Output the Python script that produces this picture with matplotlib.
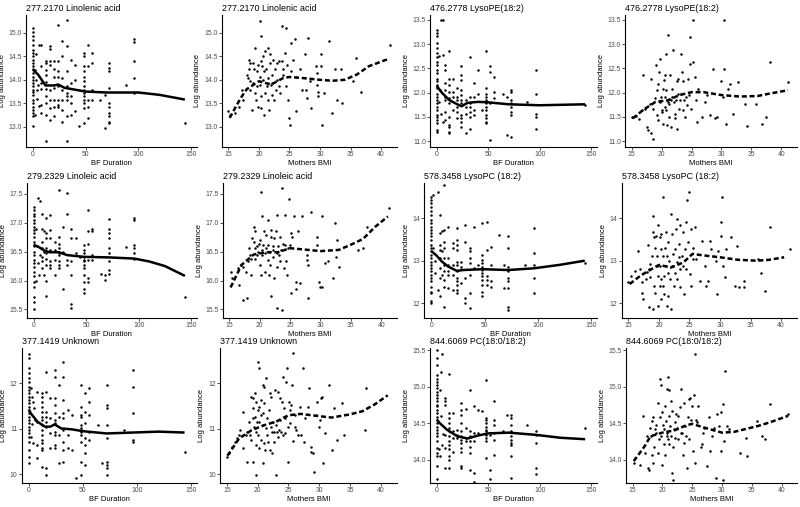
import matplotlib
matplotlib.use("Agg")
import matplotlib.pyplot as plt

plt.rcParams['font.family'] = ['Liberation Sans', 'DejaVu Sans']

# ---------------- data ----------------
bf_277 = [0, 0, 0, 0, 0, 0, 0, 0, 0, 0,
          0, 0, 0, 0, 0, 0, 0, 0, 0, 0,
          0, 0, 0, 0, 0, 0, 0,
          2, 2, 3, 3, 4, 4, 5, 6, 6,
          8, 8, 8, 8, 8, 8,
          12, 12, 12, 12, 12, 12, 12, 12, 12, 12,
          16, 16, 16, 16, 16, 16, 16, 16,
          20, 20, 20, 20, 20, 20, 20,
          24, 24, 24, 24, 24, 24, 24, 24,
          28, 28, 28, 28, 28, 28, 28,
          32, 32, 32, 32, 32, 32, 32, 32, 32,
          36, 36, 36, 36, 36,
          40, 40, 40,
          44,
          48, 48, 48, 48, 48, 48, 48, 48, 48, 48, 48, 48, 48, 48,
          52, 52, 52, 52, 52,
          56, 56, 56, 56,
          64,
          68, 68,
          72, 72, 72, 72, 72, 72, 72, 72, 72, 72,
          88,
          96, 96, 96, 96, 96,
          144]
y_bf_277 = [15.10, 15.02, 14.93, 14.84, 14.75, 14.64, 14.57, 14.50, 14.43, 14.36,
            14.29, 14.22, 14.15, 14.07, 14.00, 13.93, 13.86, 13.79, 13.75, 13.68,
            13.58, 13.51, 13.43, 13.36, 13.29, 13.22, 13.02,
            14.20, 13.25, 14.55, 14.00, 13.78, 13.60, 13.90, 14.75, 13.45,
            14.75, 14.30, 13.93, 13.80, 13.47, 13.30,
            14.40, 14.35, 14.20, 14.10, 13.95, 13.80, 13.65, 13.50, 13.26, 12.69,
            14.72, 14.65, 14.40, 14.32, 13.79, 13.58, 13.40, 13.15,
            14.40, 14.22, 14.07, 13.83, 13.58, 13.43, 13.22,
            15.16, 14.40, 14.18, 14.07, 13.86, 13.58, 13.47, 13.43,
            14.82, 14.50, 14.04, 13.79, 13.58, 13.36, 13.11,
            15.27, 14.72, 14.18, 13.86, 13.72, 13.65, 13.58, 13.22, 12.69,
            14.42, 13.93, 13.65, 13.51, 13.26,
            14.32, 14.00, 13.33,
            13.01,
            14.57, 14.50, 14.29, 14.18, 14.07, 13.97, 13.86, 13.79, 13.72, 13.65, 13.58, 13.51, 13.40, 13.08,
            14.75, 14.29, 13.58, 13.43, 13.19,
            14.57, 14.36, 13.79, 13.58,
            13.58,
            13.68, 12.97,
            14.36, 14.25, 14.18, 13.83, 13.51, 13.43, 13.29, 13.22, 13.11, 13.08,
            13.90,
            14.86, 14.80, 14.40, 14.04, 13.72,
            13.08]

bmi_277 = [15.0, 15.3, 16.1, 16.8, 17.2, 17.4, 18.0, 18.2, 18.5, 18.3,
           18.4, 18.5, 18.8, 18.6, 19.1, 19.0, 19.2, 19.3, 19.3, 19.5,
           19.6, 19.7, 19.9, 19.9, 20.1, 20.2, 20.3, 20.2, 20.3, 20.4,
           20.4, 20.5, 20.6, 20.7, 20.8, 20.9, 21.0, 21.0, 21.1, 21.3,
           21.4, 21.5, 21.5, 21.7, 21.8, 21.8, 21.9, 22.1, 22.2, 22.2,
           22.3, 22.4, 22.6, 22.8, 22.9, 23.0, 23.2, 23.3, 23.4, 23.7,
           23.8, 23.9, 24.0, 24.2, 24.4, 24.5, 24.6, 24.8, 24.9, 25.1,
           25.2, 25.3, 25.6, 25.9, 26.0, 26.1, 26.7, 27.0, 27.5, 27.7,
           27.8, 28.0, 28.3, 28.5, 29.4, 29.5, 29.5, 29.6, 29.7, 30.1,
           30.2, 30.4, 30.6, 31.5, 32.0, 32.4, 32.7, 33.5, 33.6, 35.4,
           35.9, 36.7, 41.4]
y_bmi_277 = [13.33, 13.26, 13.29, 13.43, 13.79, 13.58, 14.11, 14.04, 13.79, 14.43,
             14.22, 13.97, 13.36, 14.36, 14.36, 13.93, 14.22, 14.68, 13.72, 13.58,
             14.18, 13.86, 14.32, 13.43, 14.07, 13.90, 14.93, 15.25, 14.40, 13.65,
             13.40, 14.29, 14.00, 14.50, 14.18, 13.26, 13.72, 14.61, 14.22, 13.86,
             13.58, 14.68, 14.04, 13.36, 14.54, 14.36, 13.90, 13.68, 14.11, 13.93,
             14.43, 13.58, 14.22, 13.79, 14.36, 14.00, 13.86, 14.40, 13.72, 15.14,
             14.40, 14.11, 14.22, 14.57, 13.86, 15.11, 14.32, 13.58, 13.19, 13.04,
             14.79, 14.18, 14.43, 14.86, 13.33, 14.07, 14.22, 13.79, 14.54, 13.79,
             13.61, 14.89, 13.97, 13.40, 14.29, 14.15, 13.90, 13.75, 13.65, 14.29,
             14.54, 13.04, 13.72, 14.82, 13.29, 14.22, 13.58, 14.22, 13.51, 13.97,
             14.47, 13.75, 14.75]

bf_476 = [0, 0, 0, 0, 0, 0, 0, 0, 0, 0,
          0, 0, 0, 0, 0, 0, 0, 0, 0, 0,
          0, 0, 0, 0, 0, 0, 0,
          2, 2, 3, 4, 4, 6, 6, 6,
          8, 8, 8, 8, 8, 8, 8, 8,
          12, 12, 12, 12, 12, 12, 12, 12, 12, 12, 12,
          16, 16, 16, 16,
          20, 20, 20, 20, 20, 20,
          24, 24, 24, 24, 24, 24, 24, 24, 24, 24, 24,
          28, 28, 28, 28,
          32, 32, 32, 32, 32, 32, 32,
          36, 36, 36, 36,
          40, 40,
          44,
          48, 48, 48, 48, 48, 48, 48, 48, 48, 48, 48, 48,
          52, 52, 52, 52,
          56, 56, 56,
          64,
          68, 68,
          72, 72, 72, 72, 72, 72, 72, 72,
          88,
          96, 96, 96, 96, 96,
          144]
y_bf_476 = [13.29, 13.22, 13.16, 13.02, 12.91, 12.81, 12.74, 12.64, 12.57, 12.47,
            12.40, 12.29, 12.23, 12.16, 12.09, 11.98, 11.92, 11.85, 11.78, 11.71,
            11.64, 11.54, 11.50, 11.43, 11.37, 11.23, 11.19,
            12.75, 11.80, 12.05, 13.49, 11.55, 13.49, 12.78, 11.40,
            12.57, 12.47, 12.19, 12.05, 11.92, 11.85, 11.61, 11.43,
            12.85, 12.29, 12.16, 12.02, 11.88, 11.78, 11.50, 11.33, 11.29, 11.19, 11.16,
            12.29, 12.02, 11.92, 11.64,
            12.09, 11.92, 11.85, 11.71, 11.61, 11.47,
            12.54, 12.36, 12.26, 12.05, 11.95, 11.85, 11.78, 11.54, 11.47, 11.40, 11.29,
            11.85, 11.71, 11.57, 11.17,
            12.74, 11.92, 11.78, 11.71, 11.61, 11.50, 11.26,
            12.19, 11.92, 11.64, 11.54,
            12.47, 11.98,
            11.64,
            12.85, 12.09, 11.98, 11.92, 11.85, 11.78, 11.71, 11.64, 11.54, 11.47, 11.40, 11.37,
            12.54, 12.43, 11.78, 11.02,
            12.33, 12.02, 11.88,
            11.98,
            11.92, 11.12,
            12.05, 12.02, 11.85, 11.78, 11.71, 11.61, 11.54, 11.09,
            11.81,
            12.47, 11.98, 11.57, 11.50, 11.26,
            11.74]

bmi_476 = [15.0, 15.3, 15.7, 16.3, 16.7, 16.9, 17.2, 17.5, 17.8, 18.1,
           18.3, 18.3, 18.5, 18.6, 18.9, 19.1, 19.2, 19.3, 19.4, 19.4,
           19.6, 19.7, 19.8, 19.9, 20.0, 20.1, 20.2, 20.3, 20.4, 20.5,
           20.6, 20.6, 20.7, 20.8, 20.8, 20.9, 21.1, 21.1, 21.2, 21.3,
           21.4, 21.5, 21.6, 21.7, 21.8, 21.9, 22.1, 22.2, 22.2, 22.4,
           22.5, 22.6, 22.7, 22.8, 22.9, 23.1, 23.2, 23.3, 23.4, 23.5,
           23.6, 23.7, 23.9, 24.1, 24.2, 24.4, 24.6, 24.7, 24.8, 24.9,
           25.2, 25.3, 25.6, 25.8, 25.9, 26.1, 26.7, 27.2, 27.6, 28.1,
           28.6, 28.9, 29.2, 30.0, 30.3, 30.4, 30.5, 30.7, 31.1, 31.4,
           31.9, 32.8, 33.9, 34.2, 35.8, 36.7, 37.5, 38.1, 41.1]
y_bmi_476 = [11.49, 11.50, 11.51, 11.45, 11.64, 12.36, 11.67, 11.29, 11.23, 11.77,
             12.29, 11.16, 11.05, 11.67, 11.88, 12.56, 12.05, 11.53, 12.18, 11.43,
             12.42, 11.81, 12.70, 11.91, 11.60, 11.64, 12.08, 11.36, 12.27, 11.71,
             11.91, 12.36, 12.80, 12.05, 11.64, 11.33, 13.18, 11.81, 11.77, 11.50,
             12.36, 11.84, 11.29, 12.08, 11.91, 12.87, 11.81, 11.57, 11.47, 11.84,
             11.26, 12.25, 11.98, 12.29, 11.67, 11.84, 12.80, 11.98, 12.42, 11.64,
             12.25, 11.84, 11.50, 11.91, 11.74, 12.29, 11.95, 13.14, 12.60, 11.67,
             13.49, 12.63, 12.32, 11.84, 11.40, 12.08, 11.50, 11.81, 11.95, 11.53,
             12.49, 11.47, 11.50, 12.25, 11.91, 13.49, 12.49, 11.36, 12.08, 12.18,
             11.57, 12.22, 11.77, 11.31, 11.77, 11.36, 11.50, 12.63, 12.22]

bf_279 = [0, 0, 0, 0, 0, 0, 0, 0, 0, 0,
          0, 0, 0, 0, 0, 0, 0, 0, 0, 0,
          0, 0, 0, 0,
          2, 2, 3, 4, 4, 5, 6, 6,
          8, 8, 8, 8, 8, 8, 8,
          10, 10, 10,
          12, 12, 12, 12, 12, 12, 12, 12, 12,
          16, 16, 16, 16, 16, 16, 16,
          20, 20, 20, 20,
          24, 24, 24, 24, 24, 24, 24, 24, 24, 24,
          28, 28, 28,
          32, 32, 32, 32,
          36, 36, 36, 36, 36, 36,
          40, 40,
          44,
          48, 48, 48, 48, 48, 48, 48, 48, 48, 48, 48, 48,
          52, 52, 52, 52, 52, 52,
          56, 56, 56, 56,
          64,
          68, 68,
          72, 72, 72, 72, 72, 72, 72, 72, 72,
          88,
          96, 96, 96, 96, 96, 96,
          144]
y_bf_279 = [17.28, 17.22, 17.16, 17.11, 17.05, 16.99, 16.93, 16.88, 16.82, 16.76,
            16.67, 16.59, 16.50, 16.44, 16.36, 16.30, 16.24, 16.15, 16.07, 15.98,
            15.89, 15.72, 15.63, 15.50,
            16.90, 16.00, 16.60, 17.43, 16.30, 16.10, 17.37, 16.45,
            17.16, 16.90, 16.67, 16.56, 16.41, 16.33, 16.21,
            16.85, 16.50, 16.10,
            17.08, 16.82, 16.73, 16.56, 16.47, 16.38, 16.27, 16.00, 15.73,
            17.14, 16.88, 16.73, 16.53, 16.33, 16.27, 16.21,
            16.67, 16.53, 16.36, 16.10,
            17.57, 16.76, 16.64, 16.56, 16.50, 16.47, 16.44, 16.33, 16.27, 16.21,
            16.93, 16.50, 15.86,
            17.51, 17.16, 16.36, 16.27,
            16.90, 16.73, 16.33, 16.10, 15.60, 15.52,
            16.73, 16.47,
            16.41,
            16.62, 16.53, 16.47, 16.41, 16.36, 16.33, 16.27, 16.21, 16.10, 15.98, 15.86, 15.78,
            17.23, 16.85, 16.64, 16.36, 16.04, 15.98,
            16.90, 16.85, 16.44, 16.36,
            16.12,
            16.10, 16.01,
            17.06, 16.90, 16.82, 16.73, 16.56, 16.47, 16.33, 16.18, 16.12,
            16.58,
            17.08, 17.05, 16.62, 16.56, 16.47, 16.38,
            15.72]

bmi_279 = [15.2, 15.5, 16.4, 16.6, 16.9, 17.2, 17.3, 17.7, 17.9, 18.0,
           18.3, 18.4, 18.5, 18.6, 18.8, 19.0, 19.1, 19.2, 19.3, 19.3,
           19.5, 19.6, 19.7, 19.9, 20.0, 20.1, 20.2, 20.2, 20.3, 20.4,
           20.4, 20.6, 20.7, 20.8, 20.8, 21.0, 21.1, 21.3, 21.3, 21.4,
           21.5, 21.5, 21.7, 21.8, 21.8, 21.9, 22.1, 22.1, 22.2, 22.3,
           22.4, 22.6, 22.8, 22.8, 22.9, 22.9, 23.0, 23.2, 23.3, 23.4,
           23.5, 23.7, 23.7, 23.9, 24.0, 24.1, 24.2, 24.4, 24.5, 24.6,
           24.8, 24.9, 25.1, 25.2, 25.3, 25.6, 25.9, 26.0, 26.3, 26.6,
           27.0, 27.7, 27.8, 27.9, 28.0, 28.4, 29.4, 29.5, 29.7, 29.9,
           30.2, 30.3, 30.8, 31.3, 32.0, 32.4, 32.6, 32.7, 33.1, 36.2,
           37.0, 37.6, 41.3]
y_bmi_279 = [16.14, 16.04, 16.21, 15.92, 16.27, 15.66, 16.24, 16.15, 15.69, 16.33,
             16.56, 16.44, 16.10, 16.38, 16.73, 16.93, 16.67, 16.56, 16.38, 16.85,
             16.44, 16.59, 16.50, 16.64, 16.27, 16.70, 17.54, 16.10, 16.53, 17.11,
             16.44, 16.62, 16.85, 16.47, 16.15, 16.56, 16.79, 16.36, 16.62, 17.05,
             16.50, 16.10, 16.27, 15.74, 16.76, 16.88, 16.59, 16.53, 16.41, 16.04,
             16.73, 16.85, 16.47, 15.52, 17.14, 16.24, 16.59, 16.44, 16.76, 16.33,
             16.53, 17.60, 15.49, 16.64, 16.21, 16.62, 17.14, 16.33, 16.10, 16.56,
             17.42, 16.62, 15.78, 16.82, 16.76, 17.11, 15.86, 15.98, 16.85, 15.95,
             17.11, 16.44, 16.36, 16.27, 15.69, 17.19, 16.62, 16.76, 15.98, 15.89,
             17.11, 15.89, 16.30, 16.33, 16.04, 16.99, 16.41, 16.70, 16.24, 16.53,
             16.56, 16.93, 17.25]

bf_578 = [0, 0, 0, 0, 0, 0, 0, 0, 0, 0,
          0, 0, 0, 0, 0, 0, 0, 0, 0, 0,
          0, 0, 0, 0, 0, 0, 0, 0, 0, 0,
          2, 2, 4, 4, 6, 6,
          8, 8, 8, 8, 8, 8, 8, 8,
          10, 10, 10,
          12, 12, 12, 12, 12, 12, 12, 12, 12, 12,
          16, 16, 16, 16, 16, 16,
          20, 20, 20, 20, 20,
          24, 24, 24, 24, 24, 24, 24, 24, 24, 24, 24, 24,
          28, 28, 28,
          32, 32, 32, 32, 32,
          36, 36, 36, 36, 36, 36, 36,
          40, 40,
          44,
          48, 48, 48, 48, 48, 48, 48, 48, 48, 48, 48, 48,
          52, 52, 52, 52, 52,
          56, 56, 56, 56,
          64,
          68, 68,
          72, 72, 72, 72, 72, 72, 72, 72, 72,
          88,
          96, 96, 96, 96, 96,
          144]
y_bf_578 = [14.51, 14.43, 14.35, 14.27, 14.16, 14.08, 13.96, 13.88, 13.80, 13.73,
            13.65, 13.57, 13.49, 13.37, 13.29, 13.22, 13.14, 13.06, 12.98, 12.90,
            12.82, 12.75, 12.67, 12.59, 12.51, 12.39, 12.27, 12.24, 12.04, 12.00,
            14.55, 13.30, 13.00, 12.70, 14.61, 12.30,
            14.08, 13.65, 13.37, 13.25, 13.06, 12.82, 12.59, 12.16,
            13.69, 13.22, 12.67,
            14.78, 13.73, 13.45, 13.29, 13.06, 12.90, 12.75, 12.55, 12.39, 11.92,
            13.80, 13.06, 12.90, 12.75, 12.67, 12.35,
            13.41, 13.29, 12.90, 12.67, 12.31,
            13.76, 13.49, 13.37, 13.25, 12.98, 12.90, 12.75, 12.59, 12.51, 12.43, 12.31, 12.24,
            12.98, 12.86, 12.47,
            13.84, 13.45, 12.59, 12.12, 12.00,
            13.29, 13.22, 13.06, 12.94, 12.67, 12.24, 11.88,
            13.80, 12.82,
            12.90,
            13.88, 13.14, 13.02, 12.94, 12.86, 12.78, 12.71, 12.63, 12.55, 12.43, 12.27, 12.16,
            13.92, 13.25, 12.63, 12.55, 12.43,
            13.33, 12.90, 12.51, 12.39,
            13.61,
            12.90, 12.35,
            13.57, 13.29, 12.86, 12.75, 12.59, 12.51, 12.35, 11.92, 11.84,
            12.90,
            13.76, 13.18, 12.90, 12.59, 12.24,
            12.94]

bmi_578 = [15.0, 15.5, 16.1, 16.6, 16.9, 17.2, 17.3, 17.4, 17.9, 18.0,
           18.2, 18.3, 18.4, 18.5, 18.6, 18.8, 19.0, 19.1, 19.1, 19.2,
           19.2, 19.3, 19.3, 19.5, 19.6, 19.7, 19.8, 19.9, 19.9, 20.1,
           20.1, 20.2, 20.3, 20.3, 20.4, 20.4, 20.6, 20.7, 20.7, 20.8,
           20.9, 21.0, 21.1, 21.1, 21.3, 21.3, 21.4, 21.5, 21.5, 21.7,
           21.8, 21.9, 22.0, 22.1, 22.2, 22.3, 22.4, 22.6, 22.7, 22.8,
           22.9, 23.0, 23.0, 23.2, 23.3, 23.4, 23.4, 23.5, 23.7, 23.9,
           24.0, 24.1, 24.2, 24.4, 24.5, 24.6, 24.8, 24.9, 25.1, 25.2,
           25.3, 25.5, 25.6, 25.9, 26.1, 26.7, 27.0, 27.5, 27.7, 28.0,
           28.4, 28.6, 29.4, 29.5, 29.7, 30.1, 30.2, 30.4, 30.5, 30.8,
           30.9, 31.8, 32.4, 32.7, 33.1, 33.9, 33.9, 36.2, 36.7, 37.3,
           38.1, 41.4]
y_bmi_578 = [12.49, 12.65, 12.76, 13.24, 12.80, 12.49, 12.25, 12.09, 12.57, 12.74,
             13.37, 12.80, 11.90, 12.61, 12.92, 13.12, 14.06, 13.67, 11.86, 13.55,
             12.41, 13.31, 12.25, 13.59, 12.88, 13.12, 12.65, 11.94, 13.83, 12.41,
             13.55, 12.88, 13.28, 12.57, 13.63, 12.09, 13.12, 12.41, 14.50, 12.65,
             12.21, 13.31, 12.88, 13.67, 13.12, 11.94, 12.72, 13.43, 12.17, 13.00,
             12.57, 11.86, 14.10, 13.63, 12.88, 13.16, 12.41, 13.28, 12.72, 13.75,
             12.96, 13.98, 12.57, 13.08, 13.39, 12.80, 12.37, 13.83, 13.12, 13.67,
             12.88, 12.21, 13.28, 13.91, 12.80, 14.42, 13.43, 14.61, 12.69, 13.75,
             12.41, 13.04, 13.31, 13.79, 13.04, 12.53, 13.47, 12.88, 12.41, 12.53,
             13.47, 13.28, 13.00, 12.21, 13.24, 13.59, 13.91, 14.50, 12.88, 12.61,
             13.28, 13.55, 12.41, 13.35, 12.37, 12.53, 12.37, 13.04, 12.72, 12.29,
             13.79, 13.28]

bf_377 = [0, 0, 0, 0, 0, 0, 0, 0, 0, 0,
          0, 0, 0, 0, 0, 0, 0, 0, 0, 0,
          0, 0, 0, 0, 0, 0,
          2, 2, 3, 3, 4, 4, 5, 6,
          8, 8, 8, 8,
          12, 12, 12, 12, 12, 12, 12, 12, 12, 12, 12, 12, 12, 12, 12,
          16, 16, 16, 16, 16, 16, 16, 16,
          20, 20, 20, 20,
          24, 24, 24, 24, 24, 24, 24, 24, 24, 24, 24,
          28, 28, 28, 28,
          32, 32, 32, 32, 32, 32, 32, 32, 32,
          36, 36, 36,
          40, 40,
          44,
          48, 48, 48, 48, 48, 48, 48, 48, 48, 48, 48, 48,
          52, 52, 52, 52, 52, 52, 52,
          56, 56, 56, 56, 56,
          64,
          68,
          72, 72, 72, 72, 72, 72, 72, 72, 72,
          88,
          96, 96, 96, 96, 96,
          144]
y_bf_377 = [12.64, 12.56, 12.33, 12.22, 12.11, 12.04, 11.93, 11.85, 11.78, 11.71,
            11.63, 11.56, 11.49, 11.41, 11.34, 11.27, 11.19, 11.12, 11.05, 10.97,
            10.90, 10.83, 10.72, 10.53, 10.39, 10.24,
            11.89, 10.83, 11.71, 11.10, 11.60, 10.70, 11.45, 11.19,
            11.82, 11.16, 10.64, 10.35,
            11.78, 11.71, 11.60, 11.49, 11.38, 11.27, 11.19, 11.08, 10.97, 10.86, 10.75, 10.68, 10.57, 10.53, 10.17,
            12.26, 11.82, 11.38, 11.27, 11.16, 11.05, 10.13, 9.99,
            11.67, 11.23, 10.90, 10.57,
            12.29, 12.15, 11.67, 11.52, 11.34, 11.19, 11.12, 10.94, 10.86, 10.64, 10.57,
            11.96, 11.27, 10.86, 10.24,
            12.48, 12.15, 11.63, 11.34, 11.23, 10.97, 10.72, 10.53, 10.28,
            11.41, 10.86, 10.57,
            11.30, 10.53,
            9.91,
            11.96, 11.49, 11.30, 11.27, 11.08, 11.01, 10.97, 10.94, 10.86, 10.72, 10.28, 9.99,
            11.78, 11.38, 11.12, 10.79, 10.64, 10.46, 10.21,
            11.89, 11.60, 11.30, 10.94, 10.75,
            11.08,
            10.24,
            11.96, 11.52, 11.45, 11.08, 10.79, 10.28, 10.21, 10.13, 9.99,
            10.97,
            12.29, 11.93, 11.34, 10.75, 10.72,
            10.50]

bmi_377 = [15.1, 15.4, 15.8, 16.3, 16.6, 17.0, 17.2, 17.6, 17.7, 18.1,
           18.2, 18.3, 18.6, 18.7, 18.9, 19.0, 19.2, 19.2, 19.3, 19.3,
           19.4, 19.5, 19.5, 19.7, 19.7, 19.8, 19.8, 19.9, 20.0, 20.1,
           20.1, 20.2, 20.2, 20.3, 20.3, 20.5, 20.6, 20.6, 20.8, 20.8,
           20.9, 20.9, 21.0, 21.0, 21.1, 21.2, 21.3, 21.4, 21.5, 21.6,
           21.7, 21.8, 22.0, 22.0, 22.1, 22.2, 22.3, 22.4, 22.5, 22.6,
           22.7, 22.8, 22.9, 23.0, 23.1, 23.3, 23.3, 23.4, 23.6, 23.7,
           23.8, 24.0, 24.1, 24.1, 24.3, 24.4, 24.5, 24.6, 24.7, 24.9,
           24.9, 25.1, 25.2, 25.3, 25.4, 25.6, 25.7, 25.8, 26.0, 26.1,
           26.3, 26.5, 26.8, 27.0, 27.3, 27.6, 27.7, 28.1, 28.3, 28.6,
           28.7, 28.9, 29.2, 29.4, 29.7, 30.0, 30.1, 30.2, 30.4, 30.6,
           30.9, 31.6, 32.0, 32.4, 32.8, 33.7, 34.0, 37.4, 37.5]
y_bmi_377 = [10.39, 10.46, 10.61, 10.72, 10.79, 10.86, 10.97, 10.57, 11.38, 10.86,
             10.94, 10.28, 11.16, 10.86, 11.71, 10.75, 11.23, 11.45, 10.28, 11.67,
             11.05, 11.27, 11.78, 10.94, 9.99, 11.60, 10.64, 11.16, 11.41, 10.86,
             12.48, 11.49, 12.33, 11.16, 10.57, 11.30, 11.63, 10.75, 11.96, 10.24,
             11.08, 11.34, 10.68, 11.93, 11.56, 10.53, 12.11, 11.01, 11.23, 10.86,
             10.72, 11.41, 11.78, 10.53, 11.05, 11.71, 10.94, 10.46, 11.16, 10.72,
             10.94, 11.85, 9.99, 11.08, 10.94, 11.82, 10.83, 10.97, 11.67, 11.19,
             10.94, 11.60, 12.15, 10.86, 11.45, 10.90, 11.23, 12.04, 12.33, 11.05,
             10.28, 11.60, 11.12, 11.41, 11.52, 11.96, 10.73, 12.66, 11.30, 11.05,
             10.97, 10.86, 11.49, 10.86, 12.33, 10.72, 11.23, 11.49, 11.89, 10.50,
             10.61, 10.46, 10.06, 11.30, 11.60, 11.05, 11.19, 11.67, 11.71, 10.24,
             10.90, 11.96, 10.53, 11.45, 10.75, 11.56, 10.86, 10.97, 11.89]

bf_844 = [0, 0, 0, 0, 0, 0, 0, 0, 0, 0,
          0, 0, 0, 0, 0, 0, 0, 0, 0, 0,
          0, 0, 0, 0, 0, 0, 0, 0, 0,
          2, 3, 3, 4, 4, 5, 5, 6,
          8, 8, 8, 8, 8, 8,
          12, 12, 12, 12, 12, 12, 12, 12, 12, 12, 12, 12, 12,
          16, 16, 16, 16,
          20, 20, 20,
          24, 24, 24, 24, 24, 24, 24, 24, 24, 24, 24, 24,
          28, 28, 28, 28,
          32, 32, 32, 32, 32, 32, 32,
          36, 36, 36, 36, 36,
          40, 40,
          44,
          48, 48, 48, 48, 48, 48, 48, 48, 48, 48, 48,
          52, 52, 52,
          56, 56, 56, 56, 56, 56,
          64,
          68,
          72, 72, 72, 72, 72, 72, 72, 72, 72, 72,
          88,
          96, 96, 96, 96, 96,
          144]
y_bf_844 = [15.50, 15.39, 15.30, 15.16, 15.11, 15.07, 15.02, 14.98, 14.93, 14.89,
            14.84, 14.80, 14.75, 14.73, 14.68, 14.64, 14.59, 14.55, 14.50, 14.45,
            14.41, 14.36, 14.32, 14.25, 14.16, 14.09, 14.05, 13.91, 13.73,
            14.15, 14.95, 14.05, 15.20, 14.60, 15.45, 14.20, 14.35,
            14.84, 14.80, 14.75, 14.34, 14.16, 13.89,
            15.18, 14.64, 14.57, 14.50, 14.43, 14.39, 14.32, 14.25, 14.20, 14.14, 14.05, 14.00, 13.89,
            14.64, 14.39, 14.30, 14.11,
            14.41, 14.34, 14.30,
            14.77, 14.68, 14.61, 14.50, 14.39, 14.32, 14.27, 14.23, 14.16, 14.11, 13.91, 13.89,
            14.70, 14.43, 14.30, 14.25,
            14.95, 14.39, 14.32, 14.25, 14.18, 14.09, 13.86,
            14.73, 14.36, 14.25, 13.82, 13.70,
            14.68, 14.36,
            14.66,
            15.09, 14.57, 14.55, 14.50, 14.45, 14.41, 14.39, 14.34, 14.30, 14.25, 14.02,
            14.34, 13.86, 13.73,
            14.80, 14.55, 14.48, 14.36, 14.27, 14.07,
            14.39,
            14.61,
            14.61, 14.57, 14.48, 14.39, 14.32, 14.27, 14.23, 14.20, 14.05, 13.75,
            14.48,
            14.39, 14.34, 14.23, 13.89, 13.80,
            14.43]

bmi_844 = [15.2, 15.4, 16.3, 16.8, 17.1, 17.4, 17.6, 17.8, 17.9, 18.1,
           18.2, 18.3, 18.5, 18.5, 18.6, 18.8, 18.9, 19.0, 19.2, 19.3,
           19.4, 19.6, 19.6, 19.7, 19.7, 19.9, 20.0, 20.1, 20.2, 20.3,
           20.4, 20.5, 20.6, 20.7, 20.7, 20.8, 21.0, 21.0, 21.1, 21.2,
           21.2, 21.3, 21.4, 21.5, 21.6, 21.7, 21.8, 21.8, 21.9, 22.1,
           22.2, 22.3, 22.5, 22.6, 22.7, 22.9, 23.1, 23.2, 23.3, 23.4,
           23.6, 23.7, 23.8, 24.0, 24.2, 24.3, 24.4, 24.5, 24.7, 24.8,
           24.9, 25.1, 25.3, 25.4, 25.5, 25.7, 25.9, 26.0, 26.5, 26.6,
           26.8, 27.0, 27.5, 27.9, 28.0, 28.4, 28.7, 29.0, 29.2, 29.5,
           29.8, 29.9, 30.1, 30.2, 30.3, 30.5, 30.9, 31.2, 33.0, 34.0,
           34.2, 35.9, 36.7, 37.2, 38.1, 41.1]
y_bmi_844 = [13.95, 14.02, 13.92, 14.60, 14.09, 14.32, 13.88, 13.86, 14.44, 14.32,
             14.53, 14.07, 14.58, 13.96, 14.18, 14.42, 14.37, 14.48, 14.09, 14.78,
             14.28, 15.11, 14.58, 15.02, 14.32, 14.65, 13.93, 14.48, 14.21, 14.42,
             14.74, 14.07, 14.53, 14.32, 14.37, 14.97, 15.13, 14.28, 14.21, 14.60,
             14.95, 14.46, 14.81, 14.32, 14.67, 13.82, 14.18, 13.72, 14.42, 14.51,
             14.30, 14.62, 14.44, 14.60, 14.28, 14.72, 14.37, 14.97, 14.37, 14.07,
             14.78, 14.23, 14.46, 14.32, 13.88, 14.58, 14.28, 14.83, 14.85, 14.55,
             14.74, 14.12, 14.88, 15.45, 13.95, 14.55, 14.51, 14.74, 14.18, 14.21,
             14.37, 14.44, 13.91, 14.58, 14.12, 14.32, 14.44, 13.75, 14.62, 14.46,
             14.65, 14.12, 13.72, 14.76, 14.25, 15.22, 14.46, 14.42, 14.09, 14.30,
             14.05, 14.53, 14.32, 14.28, 14.76, 14.62]

# smoothed fits
fit_bf_277_x = [0, 5, 12, 20, 24, 30, 50, 70, 100, 120, 144]
fit_bf_277_y = [14.22, 14.11, 13.88, 13.88, 13.90, 13.83, 13.75, 13.73, 13.73, 13.68, 13.58]
fit_bmi_277_x = [15.2, 17, 18, 20, 22, 24, 25, 27, 30, 32, 34, 36, 38, 41.3]
fit_bmi_277_y = [13.19, 13.61, 13.80, 13.97, 13.90, 14.04, 14.06, 14.04, 14.00, 13.98, 14.00, 14.11, 14.29, 14.45]
fit_bf_476_x = [0, 5, 12, 20, 24, 30, 40, 50, 70, 100, 144]
fit_bf_476_y = [12.14, 12.00, 11.85, 11.76, 11.72, 11.79, 11.81, 11.80, 11.76, 11.74, 11.76]
fit_bmi_476_x = [15.2, 17, 19, 21, 23, 25, 27, 30, 33, 36, 38, 41.1]
fit_bmi_476_y = [11.47, 11.65, 11.81, 11.84, 11.95, 12.01, 12.01, 11.95, 11.92, 11.93, 11.98, 12.05]
fit_bf_279_x = [0, 5, 10, 15, 24, 32, 48, 72, 96, 110, 125, 144]
fit_bf_279_y = [16.62, 16.58, 16.52, 16.49, 16.49, 16.44, 16.41, 16.40, 16.38, 16.33, 16.25, 16.08]
fit_bmi_279_x = [15.2, 17, 19, 21, 23, 25, 27, 30, 33, 35, 37, 39, 41.1]
fit_bmi_279_y = [15.88, 16.27, 16.45, 16.49, 16.49, 16.56, 16.54, 16.51, 16.53, 16.62, 16.72, 16.93, 17.11]
fit_bf_578_x = [0, 5, 10, 16, 24, 30, 48, 72, 96, 120, 144]
fit_bf_578_y = [13.23, 13.12, 12.98, 12.86, 12.76, 12.78, 12.80, 12.78, 12.82, 12.90, 13.00]
fit_bmi_578_x = [15.2, 17, 19, 20, 22, 24, 25.5, 27, 30, 33, 36, 38, 40.5]
fit_bmi_578_y = [12.45, 12.65, 12.82, 12.90, 12.84, 12.96, 13.16, 13.13, 13.08, 13.02, 13.00, 13.02, 13.08]
fit_bf_377_x = [0, 2, 8, 15, 20, 24, 30, 40, 50, 72, 96, 120, 144]
fit_bf_377_y = [11.42, 11.34, 11.16, 11.05, 11.05, 11.10, 11.01, 10.99, 10.95, 10.90, 10.92, 10.94, 10.92]
fit_bmi_377_x = [15.1, 17, 19, 21, 23, 25, 27, 30, 32, 35, 37, 39, 41.1]
fit_bmi_377_y = [10.41, 10.79, 10.97, 11.08, 11.16, 11.30, 11.33, 11.28, 11.25, 11.32, 11.39, 11.54, 11.74]
fit_bf_844_x = [0, 3, 10, 20, 30, 40, 50, 70, 96, 120, 144]
fit_bf_844_y = [14.55, 14.50, 14.41, 14.32, 14.29, 14.33, 14.36, 14.37, 14.34, 14.30, 14.28]
fit_bmi_844_x = [15.2, 17, 18, 20, 22, 24, 25, 27, 30, 32, 34, 36, 38, 41.1]
fit_bmi_844_y = [13.98, 14.18, 14.32, 14.37, 14.40, 14.47, 14.49, 14.44, 14.37, 14.38, 14.42, 14.46, 14.51, 14.60]

titles = ["277.2170 Linolenic acid", "476.2778 LysoPE(18:2)",
          "279.2329 Linoleic acid", "578.3458 LysoPC (18:2)",
          "377.1419 Unknown", "844.6069 PC(18:0/18:2)"]
yticks = [[13.0, 13.5, 14.0, 14.5, 15.0], [11.0, 11.5, 12.0, 12.5, 13.0, 13.5],
          [15.5, 16.0, 16.5, 17.0, 17.5], [12, 13, 14],
          [10, 11, 12], [14.0, 14.5, 15.0, 15.5]]
ylims = [(12.57, 15.38), (10.88, 13.60), (15.35, 17.69), (11.65, 14.83),
         (9.81, 12.78), (13.68, 15.53)]
bf_ticks = [0, 50, 100, 150]
bmi_ticks = [15, 20, 25, 30, 35, 40]

# ---------------- layout (pixel boxes of each panel) ----------------
W, H = 800, 507
row_tb = [(15, 147), (183, 318), (348, 483)]
col_lefts = [[26, 221.7, 430, 625], [26.7, 222.7, 424.3, 621.7], [21.7, 220, 430, 626]]
col_rights = [197, 397, 597, 797]

scatter_sets = [
    [(bf_277, y_bf_277, fit_bf_277_x, fit_bf_277_y), (bmi_277, y_bmi_277, fit_bmi_277_x, fit_bmi_277_y),
     (bf_476, y_bf_476, fit_bf_476_x, fit_bf_476_y), (bmi_476, y_bmi_476, fit_bmi_476_x, fit_bmi_476_y)],
    [(bf_279, y_bf_279, fit_bf_279_x, fit_bf_279_y), (bmi_279, y_bmi_279, fit_bmi_279_x, fit_bmi_279_y),
     (bf_578, y_bf_578, fit_bf_578_x, fit_bf_578_y), (bmi_578, y_bmi_578, fit_bmi_578_x, fit_bmi_578_y)],
    [(bf_377, y_bf_377, fit_bf_377_x, fit_bf_377_y), (bmi_377, y_bmi_377, fit_bmi_377_x, fit_bmi_377_y),
     (bf_844, y_bf_844, fit_bf_844_x, fit_bf_844_y), (bmi_844, y_bmi_844, fit_bmi_844_x, fit_bmi_844_y)],
]

fig = plt.figure(figsize=(8, 5.07), dpi=100)

for r in range(3):
    top, bot = row_tb[r]
    for c in range(4):
        left, right = col_lefts[r][c], col_rights[c]
        ax = fig.add_axes([left / W, 1 - bot / H, (right - left) / W, (bot - top) / H])
        x, y, fx, fy = scatter_sets[r][c]
        k = r * 2 + c // 2
        is_bf = (c % 2 == 0)

        ax.scatter(x, y, s=3.2, c='black', linewidths=0, zorder=2)
        if is_bf:
            ax.plot(fx, fy, color='black', lw=1.8, zorder=3, solid_capstyle='butt')
            ax.set_xlim(-6.5, 155.5)
            ax.set_xticks(bf_ticks)
            ax.set_xlabel("BF Duration", fontsize=5.5, labelpad=1.5)
        else:
            ax.plot(fx, fy, color='black', lw=1.8, ls=(0, (2.0, 1.1)), zorder=3)
            ax.set_xlim(13.9, 42.6)
            ax.set_xticks(bmi_ticks)
            ax.set_xlabel("Mothers BMI", fontsize=5.5, labelpad=1.5)

        ax.set_ylim(*ylims[k])
        ticks = yticks[k]
        if len(ticks) == 3:
            labels = ["%d" % t for t in ticks]
        else:
            labels = ["%.1f" % t for t in ticks]
        ax.set_yticks(ticks)
        ax.set_yticklabels(labels)
        ax.set_ylabel("Log abundance", fontsize=5.5, labelpad=2)
        ax.set_title(titles[k], loc='left', fontsize=6.4, pad=3)

        for s in ['top', 'right']:
            ax.spines[s].set_visible(False)
        for s in ['left', 'bottom']:
            ax.spines[s].set_linewidth(0.8)
            ax.spines[s].set_color('black')
        ax.tick_params(direction='out', length=2, width=0.6, color='#333333',
                       labelsize=4.9, labelcolor='#4D4D4D', pad=1)

fig.savefig("out.png", dpi=100)
